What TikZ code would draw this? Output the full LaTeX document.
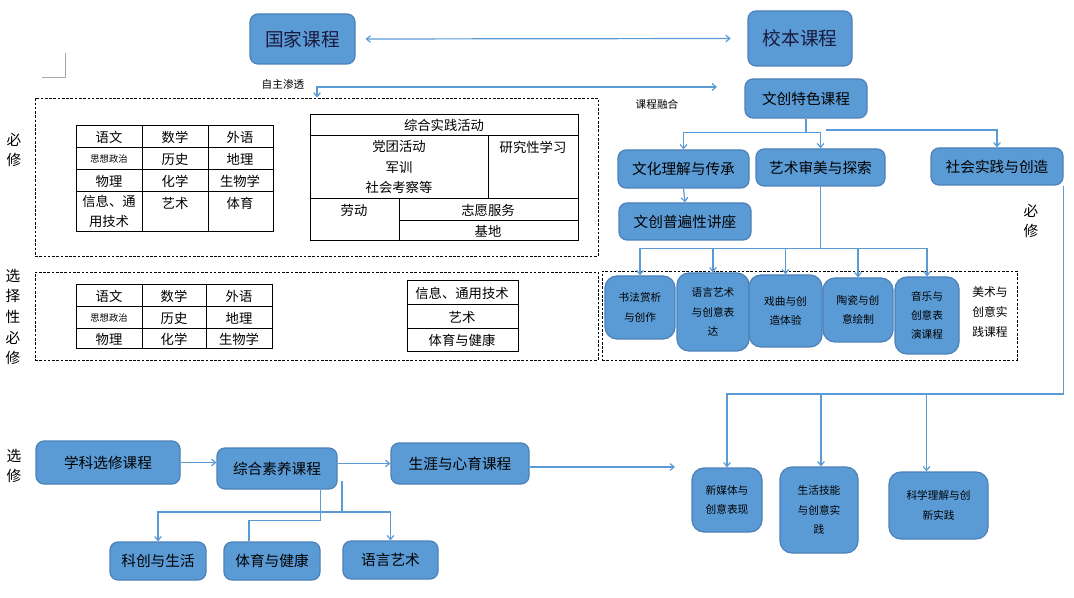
\documentclass[tikz,border=0pt]{standalone}
\usepackage{fontspec}
\setmainfont{Noto Sans CJK SC}
\usetikzlibrary{arrows.meta,fit}
\definecolor{bblue}{HTML}{5B9BD5}
\definecolor{bedge}{HTML}{4D80B8}
\definecolor{lblue}{HTML}{5B9BD5}
\definecolor{navytext}{HTML}{1A1A40}
\begin{document}
\begin{tikzpicture}[x=0.75pt,y=-0.75pt,
  box/.style={draw=bedge, line width=0.9pt, fill=bblue, rounded corners=6pt, inner sep=0pt},
  sbox/.style={box, rounded corners=9pt},
  btxt/.style={inner sep=0pt, align=center, font=\fontsize{11}{13}\selectfont},
  bigtxt/.style={btxt, font=\fontsize{14}{16}\selectfont, text=navytext},
  stxt/.style={inner sep=0pt, align=center, font=\fontsize{8}{14.5}\selectfont},
  conn/.style={draw=lblue, line width=0.9pt},
  arr/.style={conn, -{Straight Barb[length=3pt,width=5pt]}},
  darr/.style={conn, {Straight Barb[length=3pt,width=5pt]}-{Straight Barb[length=3pt,width=5pt]}},
  dbox/.style={draw=black, line width=0.6pt, dash pattern=on 2pt off 1.2pt, inner sep=0pt},
  tl/.style={font=\fontsize{10}{15}\selectfont, inner sep=0pt, align=center},
  tls/.style={font=\fontsize{7}{9}\selectfont, inner sep=0pt},
  side/.style={font=\fontsize{11}{15.5}\selectfont, inner sep=0pt, align=center},
  lab/.style={font=\fontsize{8}{10}\selectfont, inner sep=0pt},
  gridl/.style={draw=black, line width=0.75pt},
]
\useasboundingbox (0,0) rectangle (1074,598);

% page corner mark
\draw[gray!70, line width=0.6pt] (65,53) -- (65,77) -- (42,77);

% top boxes
\node[box, fit={(250,14)(355,64)}] (gj) {};
\node[bigtxt] (gjt) at (gj.center) {国家课程};
\node[box, fit={(748,11)(852,66)}] (xb) {};
\node[bigtxt] (xbt) at (xb.center) {校本课程};
\draw[darr] ([xshift=7.5pt]gj.east) -- ([xshift=-12.5pt]xb.west);

\node[box, fit={(745,79)(867,118)}] (wc) {};
\node[btxt] (wct) at (wc.center) {文创特色课程};

% dashed regions
\node[dbox, fit={(35,98)(598,256)}] (b1) {};
\node[dbox, fit={(35,272)(598,360)}] (b2) {};
\node[dbox, fit={(602,271)(1017,360)}] (b3) {};

% 自主渗透 arrow
\coordinate (zzEnd) at (717,87);
\draw[darr] (b1.north -| 317,0) |- (zzEnd);
\node[lab] (zz) at (283,84) {自主渗透};
\node[lab] (kc1) at (657,104) {课程融合};

% side labels
\node[side] (bx1) at (14,150) {必\\修};
\node[side] (bx2) at (13,317) {选\\择\\性\\必\\修};
\node[side] (bx3) at (14,466) {选\\修};
\node[side] (bx4) at (1031,221) {必\\修};

% table 1
\draw[gridl] (76,126) rectangle (273,232);
\draw[gridl] (76,148) -- (273,148) (76,170) -- (273,170) (76,192) -- (273,192)
  (142,126) -- (142,232) (208,126) -- (208,232);
\node[tl] (t1a) at (109,137) {语文};
\node[tl] (t1b) at (175,137) {数学};
\node[tl] (t1c) at (240,137) {外语};
\node[tls] (t1d) at (109,159) {思想政治};
\node[tl] (t1e) at (175,159) {历史};
\node[tl] (t1f) at (240,159) {地理};
\node[tl] (t1g) at (109,181) {物理};
\node[tl] (t1h) at (175,181) {化学};
\node[tl] (t1i) at (240,181) {生物学};
\node[tl, anchor=north] (t1j) at (109,195) {信息、通\\用技术};
\node[tl] (t1k) at (175,203) {艺术};
\node[tl] (t1l) at (240,203) {体育};

% table 2
\draw[gridl] (310,115) rectangle (578,241);
\draw[gridl] (310,136) -- (578,136) (488,136) -- (488,199) (310,199) -- (578,199)
  (399,199) -- (399,241) (399,221) -- (578,221);
\node[tl] (t2a) at (444,125) {综合实践活动};
\node[tl, font=\fontsize{10}{15.5}\selectfont, anchor=north] (t2b) at (399,140) {党团活动\\军训\\社会考察等};
\node[tl] (t2c) at (533,147) {研究性学习};
\node[tl] (t2d) at (354,210) {劳动};
\node[tl] (t2e) at (488,210) {志愿服务};
\node[tl] (t2f) at (488,231) {基地};

% table 3
\draw[gridl] (76,285) rectangle (272,349);
\draw[gridl] (76,307) -- (272,307) (76,329) -- (272,329) (142,285) -- (142,349) (206,285) -- (206,349);
\node[tl] (t3a) at (109,296) {语文};
\node[tl] (t3b) at (174,296) {数学};
\node[tl] (t3c) at (239,296) {外语};
\node[tls] (t3d) at (109,318) {思想政治};
\node[tl] (t3e) at (174,318) {历史};
\node[tl] (t3f) at (239,318) {地理};
\node[tl] (t3g) at (109,339) {物理};
\node[tl] (t3h) at (174,339) {化学};
\node[tl] (t3i) at (239,339) {生物学};

% table 4
\draw[gridl] (407,281) rectangle (518,352);
\draw[gridl] (407,305) -- (518,305) (407,329) -- (518,329);
\node[tl] (t4a) at (462,293) {信息、通用技术};
\node[tl] (t4b) at (462,317) {艺术};
\node[tl] (t4c) at (462,340) {体育与健康};

% school course tree
\node[box, fit={(618,150)(749,188)}] (wh) {};
\node[btxt] (wht) at (wh.center) {文化理解与传承};
\node[box, fit={(619,203)(751,240)}] (pb) {};
\node[btxt] (pbt) at (pb.center) {文创普遍性讲座};
\node[box, fit={(756,149)(885,186)}] (ys) {};
\node[btxt] (yst) at (ys.center) {艺术审美与探索};
\node[box, fit={(931,148)(1063,185)}] (sj) {};
\node[btxt] (sjt) at (sj.center) {社会实践与创造};

\draw[conn] (wc.south) -- ++(0,14) coordinate (t1);
\draw[arr] (t1) -| (wh.north);
\draw[arr] (t1) -| (ys.north);
\coordinate (sjStart) at (826,130);
\draw[arr] (sjStart) -| (sj.north);
\draw[arr] (wh.south) -- (pb.north);

% art boxes
\node[sbox, fit={(605,276)(675,339)}] (sf) {};
\node[stxt] (sft) at (sf.center) {书法赏析\\与创作};
\node[sbox, fit={(677,273)(749,351)}] (yy1) {};
\node[stxt] (yy1t) at (yy1.center) {语言艺术\\与创意表\\达};
\node[sbox, fit={(749,275)(822,347)}] (xq) {};
\node[stxt] (xqt) at (xq.center) {戏曲与创\\造体验};
\node[sbox, fit={(823,278)(893,342)}] (tc) {};
\node[stxt] (tct) at (tc.center) {陶瓷与创\\意绘制};
\node[sbox, fit={(895,277)(959,354)}] (yl) {};
\node[stxt] (ylt) at (yl.center) {音乐与\\创意表\\演课程};
\node[font=\fontsize{8.8}{15}\selectfont, align=center, inner sep=0pt] (msl) at (990,312) {美术与\\创意实\\践课程};

\draw[conn] (ys.south) -- ++(0,62) coordinate (t2);
\draw[arr] (t2) -| (sf.north);
\draw[arr] (t2) -| (yy1.north);
\draw[arr] (t2) -| (xq.north);
\draw[arr] (t2) -| (tc.north);
\draw[arr] (t2) -| (yl.north);

% practice boxes
\node[sbox, fit={(692,468)(762,532)}] (xm) {};
\node[stxt] (xmt) at (xm.center) {新媒体与\\创意表现};
\node[sbox, fit={(780,467)(858,553)}] (sh) {};
\node[stxt] (sht) at (sh.center) {生活技能\\与创意实\\践};
\node[sbox, fit={(889,472)(988,539)}] (kx) {};
\node[stxt] (kxt) at (kx.center) {科学理解与创\\新实践};

\draw[conn] (sj.south east) -- (sj.south east |- 0,394) coordinate (t3);
\draw[arr] (t3) -| (xm.north);
\draw[arr] (t3) -| ([xshift=1.5pt]sh.north);
\draw[arr] (t3) -| ([xshift=-9pt]kx.north);

% elective row
\node[box, fit={(36,441)(180,484)}] (xk) {};
\node[btxt] (xkt) at (xk.center) {学科选修课程};
\node[box, fit={(217,448)(337,489)}] (zh) {};
\node[btxt] (zht) at (zh.center) {综合素养课程};
\node[box, fit={(391,443)(529,484)}] (sy) {};
\node[btxt] (syt) at (sy.center) {生涯与心育课程};
\node[box, fit={(110,542)(206,580)}] (kc) {};
\node[btxt] (kct) at (kc.center) {科创与生活};
\node[box, fit={(224,542)(320,580)}] (ty) {};
\node[btxt] (tyt) at (ty.center) {体育与健康};
\node[box, fit={(343,541)(438,579)}] (yy) {};
\node[btxt] (yyt) at (yy.center) {语言艺术};

\draw[arr] (xk.east) -- (xk.east -| zh.west);
\draw[arr] (zh.east |- sy.west) -- (sy.west);
\coordinate (syEnd) at (675,467);
\draw[arr] (sy.east |- syEnd) -- (syEnd);

\draw[conn] ([xshift=-12.75pt]zh.south east) -- ++(0,31) -| ([xshift=-17.25pt]ty.north);
\coordinate (zhs) at (342,481);
\draw[conn] (zhs) -- (342,512) coordinate (t4);
\draw[arr] (t4) -| (kc.north);
\draw[arr] (t4) -| (yy.north);
\end{tikzpicture}
\end{document}
